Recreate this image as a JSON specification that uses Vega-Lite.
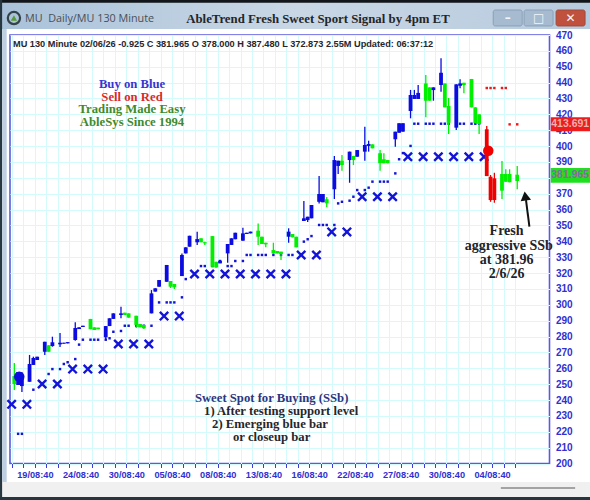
{"$schema":"https://vega.github.io/schema/vega-lite/v6.json","width":539.5,"height":428.5,"autosize":{"type":"none"},"padding":{"left":10,"top":35,"right":40.5,"bottom":36.5},"background":"#ffffff","resolve":{"axis":{"x":"independent","y":"independent"}},"config":{"view":{"stroke":"#5a5ae0","strokeWidth":1.6}},
"datasets":{
"candles":[
{"bar":0,"open":255.1,"close":250.1,"high":263.3,"low":246.3,"signal":"green"},{"bar":1,"open":249.5,"close":257.6,"high":257.6,"low":249.5,"signal":"blue"},{"bar":2,"open":248.8,"close":253.9,"high":257.6,"low":245,"signal":"blue"},
{"bar":4,"open":251.5,"close":262.7,"high":268.4,"low":251.5,"signal":"blue"},{"bar":5,"open":262.1,"close":266.5,"high":267.3,"low":262.1,"signal":"blue"},{"bar":6,"open":265.2,"close":267.3,"high":267.3,"low":265.2,"signal":"blue"},
{"bar":8,"open":270.4,"close":276.7,"high":276.7,"low":268.4,"signal":"blue"},{"bar":9,"open":274.5,"close":270.4,"high":274.5,"low":270.4,"signal":"green"},{"bar":10,"open":274,"close":276.4,"high":279.9,"low":273.6,"signal":"blue"},
{"bar":12,"open":275.1,"close":276.1,"high":282.2,"low":273.4,"signal":"blue"},{"bar":13,"open":275.5,"close":276.1,"high":276.1,"low":275.5,"signal":"blue"},{"bar":14,"open":275.7,"close":276.5,"high":276.5,"low":275.7,"signal":"blue"},
{"bar":16,"open":277.8,"close":285.4,"high":289,"low":277.4,"signal":"blue"},{"bar":17,"open":284.7,"close":285.8,"high":285.8,"low":284.7,"signal":"blue"},{"bar":18,"open":286,"close":286.8,"high":286.8,"low":286,"signal":"blue"},
{"bar":20,"open":291.1,"close":284.6,"high":291.1,"low":284.6,"signal":"green"},{"bar":21,"open":285.8,"close":284.1,"high":285.8,"low":284.1,"signal":"green"},{"bar":22,"open":285.6,"close":284.6,"high":285.6,"low":284.6,"signal":"green"},
{"bar":24,"open":279.5,"close":286.6,"high":286.6,"low":277.8,"signal":"blue"},{"bar":25,"open":286.6,"close":291.5,"high":291.5,"low":286.6,"signal":"blue"},{"bar":26,"open":291.1,"close":294.6,"high":294.6,"low":291.1,"signal":"blue"},
{"bar":28,"open":293.6,"close":294.6,"high":298.8,"low":291.5,"signal":"blue"},{"bar":29,"open":295,"close":293.6,"high":295,"low":293.6,"signal":"green"},{"bar":30,"open":294.6,"close":291.9,"high":294.6,"low":291.9,"signal":"green"},
{"bar":32,"open":293.1,"close":287.3,"high":293.1,"low":285.4,"signal":"green"},{"bar":33,"open":287.9,"close":285.8,"high":287.9,"low":285.8,"signal":"green"},{"bar":34,"open":287.3,"close":285.2,"high":287.3,"low":284.7,"signal":"green"},
{"bar":36,"open":294.6,"close":307.2,"high":309.3,"low":294.6,"signal":"blue"},{"bar":37,"open":308.3,"close":310.4,"high":310.4,"low":308.3,"signal":"blue"},{"bar":38,"open":311.4,"close":315.6,"high":315.6,"low":311.4,"signal":"blue"},
{"bar":40,"open":314.5,"close":325.1,"high":325.1,"low":314.5,"signal":"blue"},{"bar":41,"open":315,"close":311.4,"high":315,"low":310.6,"signal":"green"},{"bar":42,"open":313.1,"close":311,"high":313.1,"low":310,"signal":"green"},
{"bar":44,"open":318.1,"close":331.4,"high":332.4,"low":318.1,"signal":"blue"},{"bar":45,"open":332.4,"close":336.2,"high":336.2,"low":332.4,"signal":"blue"},{"bar":46,"open":336.6,"close":343.5,"high":343.5,"low":336.6,"signal":"blue"},
{"bar":48,"open":339.4,"close":341.4,"high":346.1,"low":337.7,"signal":"blue"},{"bar":49,"open":341.9,"close":339.4,"high":341.9,"low":339.4,"signal":"green"},{"bar":50,"open":339.4,"close":338.7,"high":339.8,"low":337.7,"signal":"green"},
{"bar":52,"open":343.3,"close":324,"high":343.3,"low":324,"signal":"green"},{"bar":53,"open":327.1,"close":323.6,"high":327.1,"low":323.6,"signal":"green"},{"bar":54,"open":326.1,"close":327.8,"high":327.8,"low":326.1,"signal":"blue"},
{"bar":56,"open":332.4,"close":338.3,"high":338.3,"low":326.5,"signal":"blue"},{"bar":57,"open":337.7,"close":341.9,"high":341.9,"low":337.7,"signal":"blue"},{"bar":58,"open":341.3,"close":345.4,"high":345.4,"low":341.3,"signal":"blue"},
{"bar":60,"open":340.4,"close":345,"high":348.6,"low":340.4,"signal":"blue"},{"bar":61,"open":344.6,"close":345.4,"high":345.4,"low":344.6,"signal":"blue"},{"bar":62,"open":345,"close":346.1,"high":346.1,"low":345,"signal":"blue"},
{"bar":64,"open":346.7,"close":342.9,"high":351.3,"low":337.7,"signal":"green"},{"bar":65,"open":342.9,"close":338.3,"high":342.9,"low":338.3,"signal":"green"},{"bar":66,"open":339.1,"close":338.1,"high":339.1,"low":336.2,"signal":"green"},
{"bar":68,"open":334.5,"close":332.4,"high":339.1,"low":332,"signal":"green"},{"bar":69,"open":333.9,"close":332.4,"high":333.9,"low":332.4,"signal":"green"},{"bar":70,"open":333.5,"close":332,"high":333.5,"low":328.2,"signal":"green"},
{"bar":72,"open":342.9,"close":346.1,"high":348.2,"low":339.1,"signal":"blue"},{"bar":73,"open":344.6,"close":342.5,"high":344.6,"low":342.5,"signal":"green"},{"bar":74,"open":342.9,"close":336.2,"high":342.9,"low":336.2,"signal":"green"},
{"bar":76,"open":352.8,"close":354.5,"high":365.4,"low":352.8,"signal":"blue"},{"bar":77,"open":353.4,"close":355.5,"high":355.5,"low":352.2,"signal":"blue"},{"bar":78,"open":354.5,"close":362.9,"high":362.9,"low":354.5,"signal":"blue"},
{"bar":80,"open":364.9,"close":369.8,"high":381.1,"low":363.9,"signal":"blue"},{"bar":81,"open":364.6,"close":369.8,"high":369.8,"low":364.6,"signal":"blue"},{"bar":82,"open":366.5,"close":363.9,"high":367.9,"low":361.4,"signal":"green"},
{"bar":84,"open":372.8,"close":391.2,"high":393.7,"low":366.6,"signal":"blue"},{"bar":85,"open":387.5,"close":390.8,"high":390.8,"low":382.4,"signal":"blue"},{"bar":86,"open":390.8,"close":388.1,"high":394.4,"low":384.5,"signal":"green"},
{"bar":88,"open":391.2,"close":396.5,"high":396.5,"low":376.9,"signal":"blue"},{"bar":89,"open":393.8,"close":391.2,"high":393.8,"low":388.1,"signal":"green"},{"bar":90,"open":393.3,"close":397.5,"high":397.5,"low":393.3,"signal":"blue"},
{"bar":92,"open":396.5,"close":400.7,"high":412.2,"low":390.8,"signal":"blue"},{"bar":93,"open":400.1,"close":401.3,"high":403.4,"low":396.5,"signal":"blue"},{"bar":94,"open":401.1,"close":398.6,"high":401.1,"low":398.6,"signal":"green"},
{"bar":96,"open":395.5,"close":389.2,"high":397.5,"low":384.5,"signal":"green"},{"bar":97,"open":391.7,"close":389.2,"high":395.5,"low":389.2,"signal":"green"},{"bar":98,"open":391.2,"close":389.2,"high":391.2,"low":389.2,"signal":"green"},
{"bar":100,"open":404.3,"close":409.1,"high":409.1,"low":399.6,"signal":"blue"},{"bar":101,"open":408.4,"close":414.4,"high":414.4,"low":408.4,"signal":"blue"},{"bar":102,"open":409.1,"close":414.4,"high":414.4,"low":409.1,"signal":"blue"},
{"bar":104,"open":422.1,"close":432.2,"high":435.4,"low":417.5,"signal":"blue"},{"bar":105,"open":429.7,"close":432.2,"high":435.4,"low":429.7,"signal":"blue"},{"bar":106,"open":429.7,"close":433.5,"high":438.5,"low":429.7,"signal":"blue"},
{"bar":108,"open":439.5,"close":428.6,"high":444.8,"low":418.1,"signal":"green"},{"bar":109,"open":437,"close":428.6,"high":437,"low":428.6,"signal":"green"},{"bar":110,"open":435.3,"close":437,"high":437,"low":428.6,"signal":"blue"},
{"bar":112,"open":438.5,"close":446.2,"high":455.3,"low":434.3,"signal":"blue"},{"bar":113,"open":439.5,"close":424.4,"high":439.5,"low":424.4,"signal":"green"},{"bar":114,"open":425.3,"close":414.7,"high":430.3,"low":407.6,"signal":"green"},
{"bar":116,"open":411.6,"close":438.9,"high":438.9,"low":410.1,"signal":"blue"},{"bar":117,"open":438,"close":439.5,"high":442.1,"low":436.4,"signal":"blue"},{"bar":118,"open":439.9,"close":438.5,"high":439.9,"low":433.3,"signal":"green"},
{"bar":120,"open":442.3,"close":424.4,"high":442.3,"low":424.4,"signal":"green"},{"bar":121,"open":424.4,"close":414.4,"high":424.4,"low":414.4,"signal":"green"},{"bar":122,"open":420,"close":413.9,"high":420,"low":407.6,"signal":"green"},
{"bar":124,"open":410.6,"close":381.1,"high":412.7,"low":381.1,"signal":"red"},{"bar":125,"open":380.7,"close":366,"high":381.8,"low":364.9,"signal":"red"},{"bar":126,"open":379.7,"close":366,"high":383.2,"low":364.3,"signal":"red"},
{"bar":128,"open":382.4,"close":371.9,"high":390.6,"low":366.6,"signal":"green"},{"bar":129,"open":382.4,"close":377.5,"high":385.4,"low":377.5,"signal":"green"},{"bar":130,"open":382.4,"close":377.2,"high":385.4,"low":377.2,"signal":"green"},
{"bar":132,"open":378,"close":381.965,"high":387.48,"low":372.873,"signal":"green"}],
"stops":[{"bar":1,"p":218.7},{"bar":2,"p":218.7},{"bar":5,"p":246.5},{"bar":9,"p":256.4},{"bar":10,"p":259.5},{"bar":12,"p":259.5},{"bar":13,"p":262.7},{"bar":14,"p":263.8},{"bar":16,"p":265.8},{"bar":17,"p":274.9},{"bar":18,"p":278},{"bar":20,"p":278},{"bar":21,"p":278},{"bar":22,"p":278},{"bar":24,"p":278},{"bar":25,"p":278.9},{"bar":26,"p":283},{"bar":28,"p":283.5},{"bar":29,"p":286.8},{"bar":30,"p":286.8},{"bar":32,"p":286.8},{"bar":33,"p":286.8},{"bar":34,"p":286.8},{"bar":36,"p":286.8},{"bar":38,"p":301.5},{"bar":40,"p":301.5},{"bar":41,"p":301.5},{"bar":42,"p":301.5},{"bar":44,"p":304.7},{"bar":45,"p":316.2},{"bar":49,"p":324.4},{"bar":50,"p":324.4},{"bar":52,"p":324.4},{"bar":53,"p":324.4},{"bar":54,"p":327.6},{"bar":56,"p":324.4},{"bar":57,"p":324.4},{"bar":58,"p":327.6},{"bar":60,"p":327.6},{"bar":61,"p":331.4},{"bar":62,"p":331.4},{"bar":64,"p":331.4},{"bar":65,"p":331.4},{"bar":66,"p":331.4},{"bar":68,"p":331.4},{"bar":70,"p":331.4},{"bar":72,"p":331.4},{"bar":73,"p":331.4},{"bar":76,"p":339.8},{"bar":77,"p":341.3},{"bar":78,"p":343.3},{"bar":80,"p":350.3},{"bar":81,"p":350.3},{"bar":82,"p":350.3},{"bar":84,"p":350.3},{"bar":85,"p":363.9},{"bar":86,"p":364.9},{"bar":88,"p":365.6},{"bar":89,"p":368.1},{"bar":90,"p":372.3},{"bar":92,"p":372.3},{"bar":93,"p":373.8},{"bar":94,"p":377.6},{"bar":96,"p":377.6},{"bar":97,"p":377.6},{"bar":98,"p":377.6},{"bar":100,"p":382.8},{"bar":101,"p":391.7},{"bar":102,"p":395.6},{"bar":104,"p":400.1},{"bar":105,"p":414.1},{"bar":106,"p":414.1},{"bar":108,"p":414.1},{"bar":109,"p":414.1},{"bar":110,"p":414.1},{"bar":112,"p":414.1},{"bar":113,"p":414.1},{"bar":114,"p":414.1},{"bar":116,"p":414.1},{"bar":117,"p":414.1},{"bar":118,"p":414.1},{"bar":120,"p":414.1},{"bar":121,"p":414.1},{"bar":122,"p":414.1}],
"redstops":[{"bar":124,"p":436.6},{"bar":125,"p":436.6},{"bar":126,"p":436.6},{"bar":128,"p":436.6},{"bar":129,"p":436.6},{"bar":130,"p":413.7},{"bar":132,"p":413.7}],
"crosses":[{"bar":-0.7,"p":237.3},{"bar":3.3,"p":237.3},{"bar":7.3,"p":250.1},{"bar":11.3,"p":250.1},{"bar":15.3,"p":259.5},{"bar":19.3,"p":259.5},{"bar":23.3,"p":259.5},{"bar":27.3,"p":275.3},{"bar":31.3,"p":275.3},{"bar":35.3,"p":275.3},{"bar":39.3,"p":292.9},{"bar":43.3,"p":292.9},{"bar":47.3,"p":319.4},{"bar":51.3,"p":319.4},{"bar":55.3,"p":319.4},{"bar":59.3,"p":319.4},{"bar":63.3,"p":319.4},{"bar":67.3,"p":319.4},{"bar":71.3,"p":319.4},{"bar":75.3,"p":331.4},{"bar":79.3,"p":331.4},{"bar":83.3,"p":345.9},{"bar":87.3,"p":345.9},{"bar":91.3,"p":368.1},{"bar":95.3,"p":368.1},{"bar":99.3,"p":368.1},{"bar":103.3,"p":393.3},{"bar":107.3,"p":393.3},{"bar":111.3,"p":393.3},{"bar":115.3,"p":393.3},{"bar":119.3,"p":393.3},{"bar":123.3,"p":393.3}]},
"layer":[
{"data":{"values":[{"a":-3.75,"b":151.1,"t":492.05,"u":473.8}]},"mark":{"type":"rect","fill":{"gradient":"linear","x1":0,"x2":1,"y1":0,"y2":0,"stops":[{"offset":0,"color":"#a9c2d9"},{"offset":0.5,"color":"#c9d7e5"},{"offset":1,"color":"#b7cbde"}]}},"encoding":{"x":{"field":"a","type":"quantitative","scale":{"domain":[-1.13,140.47],"nice":false,"zero":false,"padding":0},"axis":{"values":[-0.6,2.4,5.4,8.4,11.4,14.4,17.4,20.4,23.4,26.4,29.4,32.4,35.4,38.4,41.4,44.4,47.4,50.4,53.4,56.4,59.4,62.4,65.4,68.4,71.4,74.4,77.4,80.4,83.4,86.4,89.4,92.4,95.4,98.4,101.4,104.4,107.4,110.4,113.4,116.4,119.4,122.4,125.4,128.4,131.4],"labelExpr":"{'5.4':'19/08:40','17.4':'24/08:40','29.4':'30/08:40','41.4':'05/08:40','53.4':'08/08:40','65.4':'13/08:40','77.4':'16/08:40','89.4':'22/08:40','101.4':'27/08:40','113.4':'30/08:40','125.4':'04/08:40'}[''+datum.value]||''","labelOverlap":false,"labelBound":false,"labelFlush":false,"title":null,"grid":true,"gridColor":"#d4fbfb","gridWidth":1,"domain":false,"ticks":true,"tickColor":"#3a3ad8","tickSize":4,"labelColor":"#3030d0","labelFont":"Liberation Sans","labelFontSize":9.2,"labelFontWeight":"bold","labelPadding":3}},"x2":{"field":"b"},"y":{"field":"t","type":"quantitative","scale":{"domain":[200,470],"nice":false,"zero":false,"padding":0},"axis":{"orient":"right","values":[200,210,220,230,240,250,260,270,280,290,300,310,320,330,340,350,360,370,380,390,400,410,420,430,440,450,460,470],"labelOverlap":false,"labelBound":false,"title":null,"grid":true,"gridColor":"#d4fbfb","gridWidth":1,"domain":false,"ticks":false,"labelColor":"#3030d0","labelFont":"Liberation Sans","labelFontSize":10,"labelFontWeight":"bold","labelPadding":6}},"y2":{"field":"u"}}},
{"data":{"values":[{"a":-3.75,"b":151.1,"t":492.05,"u":490.3}]},"mark":{"type":"rect","fill":"#12161a"},"encoding":{"x":{"field":"a","type":"quantitative","axis":null},"x2":{"field":"b"},"y":{"field":"t","type":"quantitative","axis":null},"y2":{"field":"u"}}},
{"data":{"values":[{"a":-3.75,"b":151.1,"t":188.3,"u":178.9}]},"mark":{"type":"rect","fill":"#f0f0f0"},"encoding":{"x":{"field":"a","type":"quantitative","axis":null},"x2":{"field":"b"},"y":{"field":"t","type":"quantitative","axis":null},"y2":{"field":"u"}}},
{"data":{"values":[{"a":-3.75,"b":151.1,"t":178.9,"u":177}]},"mark":{"type":"rect","fill":"#26363e"},"encoding":{"x":{"field":"a","type":"quantitative","axis":null},"x2":{"field":"b"},"y":{"field":"t","type":"quantitative","axis":null},"y2":{"field":"u"}}},
{"data":{"values":[{"a":-3.75,"b":-3.2,"t":492.05,"u":177}]},"mark":{"type":"rect","fill":"#26363e"},"encoding":{"x":{"field":"a","type":"quantitative","axis":null},"x2":{"field":"b"},"y":{"field":"t","type":"quantitative","axis":null},"y2":{"field":"u"}}},
{"data":{"values":[{"a":-3.2,"b":-2,"t":473.8,"u":188.3}]},"mark":{"type":"rect","fill":"#bdcfe0"},"encoding":{"x":{"field":"a","type":"quantitative","axis":null},"x2":{"field":"b"},"y":{"field":"t","type":"quantitative","axis":null},"y2":{"field":"u"}}},
{"data":{"values":[{"a":127.7,"b":147.2,"t":184.6}]},"mark":{"type":"rule","color":"#8a8a8a","strokeWidth":1.6},"encoding":{"x":{"field":"a","type":"quantitative","axis":null},"x2":{"field":"b"},"y":{"field":"t","type":"quantitative","axis":null}}},
{"data":{"values":[{"a":125.7,"b":133.3,"t":485.75,"u":475.7},{"a":133.8,"b":141.4,"t":485.75,"u":475.7}]},"mark":{"type":"rect","fill":"#a6bbd0","stroke":"#8aa0b6","cornerRadius":2},"encoding":{"x":{"field":"a","type":"quantitative","axis":null},"x2":{"field":"b"},"y":{"field":"t","type":"quantitative","axis":null},"y2":{"field":"u"}}},
{"data":{"values":[{"a":142.2,"b":149.8,"t":485.75,"u":475.7}]},"mark":{"type":"rect","fill":"#c0513c","stroke":"#a24a3a","cornerRadius":2},"encoding":{"x":{"field":"a","type":"quantitative","axis":null},"x2":{"field":"b"},"y":{"field":"t","type":"quantitative","axis":null},"y2":{"field":"u"}}},
{"data":{"values":[{"x":129.5,"p":480.7,"g":"–"},{"x":137.6,"p":480.7,"g":"□"},{"x":146,"p":480.7,"g":"✕"}]},"mark":{"type":"text","font":"DejaVu Sans","fontSize":12,"fontWeight":"bold","color":"#f2f6fa","baseline":"middle"},"encoding":{"x":{"field":"x","type":"quantitative","axis":null},"y":{"field":"p","type":"quantitative","axis":null},"text":{"field":"g"}}},
{"data":{"values":[{"x":-0.1,"p":480.7}]},"mark":{"type":"point","filled":false,"color":"#34424a","strokeWidth":2.2,"size":150,"opacity":1},"encoding":{"x":{"field":"x","type":"quantitative","axis":null},"y":{"field":"p","type":"quantitative","axis":null}}},
{"data":{"values":[{"x":-0.1,"p":480.7}]},"mark":{"type":"point","shape":"triangle-up","filled":true,"color":"#5a9a3a","size":40,"opacity":1},"encoding":{"x":{"field":"x","type":"quantitative","axis":null},"y":{"field":"p","type":"quantitative","axis":null}}},
{"data":{"values":[{"x":2.8,"p":480,"t":"MU\u00a0\u00a0Daily/MU 130 Minute"}]},"mark":{"type":"text","font":"Open Sans","fontSize":10.8,"color":"#4a4f55","align":"left","baseline":"middle"},"encoding":{"x":{"field":"x","type":"quantitative","axis":null},"y":{"field":"p","type":"quantitative","axis":null},"text":{"field":"t"}}},
{"data":{"values":[{"x":79.7,"p":480,"t":"AbleTrend Fresh Sweet Sport Signal by 4pm ET"}]},"mark":{"type":"text","font":"Liberation Serif","fontSize":12.8,"fontWeight":"bold","color":"#22262a","baseline":"middle"},"encoding":{"x":{"field":"x","type":"quantitative","axis":null},"y":{"field":"p","type":"quantitative","axis":null},"text":{"field":"t"}}},
{"data":{"values":[{"x":-0.34,"p":464.3,"t":"MU 130 Minute 02/06/26 -0.925 C 381.965 O 378.000 H 387.480 L 372.873 2.55M Updated: 06:37:12"}]},"mark":{"type":"text","font":"Liberation Sans","fontSize":9.2,"fontWeight":"bold","color":"#26262e","align":"left","baseline":"middle"},"encoding":{"x":{"field":"x","type":"quantitative","axis":null},"y":{"field":"p","type":"quantitative","axis":null},"text":{"field":"t"}}},
{"data":{"name":"stops"},"mark":{"type":"point","shape":"square","filled":true,"color":"#1414d8","size":6,"opacity":1},"encoding":{"x":{"field":"bar","type":"quantitative","axis":null},"y":{"field":"p","type":"quantitative","axis":null}}},
{"data":{"name":"redstops"},"mark":{"type":"point","shape":"square","filled":true,"color":"#f01818","size":6,"opacity":1},"encoding":{"x":{"field":"bar","type":"quantitative","axis":null},"y":{"field":"p","type":"quantitative","axis":null}}},
{"data":{"name":"crosses"},"mark":{"type":"point","shape":"M-1,-1L1,1M-1,1L1,-1","filled":false,"color":"#1414d8","strokeWidth":2.4,"size":70,"opacity":1},"encoding":{"x":{"field":"bar","type":"quantitative","axis":null},"y":{"field":"p","type":"quantitative","axis":null}}},
{"data":{"name":"candles"},"mark":{"type":"rule","strokeWidth":1.3},"encoding":{"x":{"field":"bar","type":"quantitative","axis":null},"y":{"field":"low","type":"quantitative","axis":null},"y2":{"field":"high"},"color":{"field":"signal","type":"nominal","legend":null,"scale":{"domain":["blue","green","red"],"range":["#0c0ce0","#00f000","#f00000"]}}}},
{"data":{"name":"candles"},"mark":{"type":"bar","width":3.8},"encoding":{"x":{"field":"bar","type":"quantitative","axis":null},"y":{"field":"open","type":"quantitative","axis":null},"y2":{"field":"close"},"color":{"field":"signal","type":"nominal","legend":null,"scale":{"domain":["blue","green","red"],"range":["#0c0ce0","#00f000","#f00000"]}}}},
{"data":{"values":[{"bar":1.3,"p":254.7,"signal":"blue"},{"bar":124.4,"p":397.1,"signal":"red"}]},"mark":{"type":"point","shape":"circle","filled":true,"size":110,"opacity":1},"encoding":{"x":{"field":"bar","type":"quantitative","axis":null},"y":{"field":"p","type":"quantitative","axis":null},"color":{"field":"signal","type":"nominal","legend":null,"scale":{"domain":["blue","green","red"],"range":["#0c0ce0","#00f000","#f00000"]}}}},
{"data":{"values":[{"x":140.8,"e":151.1,"t":418.1,"u":409.3}]},"mark":{"type":"rect","fill":"#ee1c1c"},"encoding":{"x":{"field":"x","type":"quantitative","axis":null},"x2":{"field":"e"},"y":{"field":"t","type":"quantitative","axis":null},"y2":{"field":"u"}}},
{"data":{"values":[{"x":140.8,"e":151.1,"t":386.2,"u":376.9}]},"mark":{"type":"rect","fill":"#1fe01f"},"encoding":{"x":{"field":"x","type":"quantitative","axis":null},"x2":{"field":"e"},"y":{"field":"t","type":"quantitative","axis":null},"y2":{"field":"u"}}},
{"data":{"values":[{"x":145.9,"p":413.691,"t":"413.691"}]},"mark":{"type":"text","font":"Liberation Sans","fontSize":10.5,"fontWeight":"bold","color":"#f0b0b0","baseline":"middle"},"encoding":{"x":{"field":"x","type":"quantitative","axis":null},"y":{"field":"p","type":"quantitative","axis":null},"text":{"field":"t"}}},
{"data":{"values":[{"x":145.9,"p":381.965,"t":"381.965"}]},"mark":{"type":"text","font":"Liberation Sans","fontSize":10.5,"fontWeight":"bold","color":"#8a6aa0","baseline":"middle"},"encoding":{"x":{"field":"x","type":"quantitative","axis":null},"y":{"field":"p","type":"quantitative","axis":null},"text":{"field":"t"}}},
{"data":{"values":[{"x":135.2,"p":349.2},{"x":134.3,"p":366}]},"mark":{"type":"line","color":"#111111","strokeWidth":2},"encoding":{"x":{"field":"x","type":"quantitative","axis":null},"y":{"field":"p","type":"quantitative","axis":null}}},
{"data":{"values":[{"x":134.1,"p":368.5}]},"mark":{"type":"point","shape":"triangle-up","filled":true,"color":"#111111","size":110,"angle":-8,"opacity":1},"encoding":{"x":{"field":"x","type":"quantitative","axis":null},"y":{"field":"p","type":"quantitative","axis":null}}},
{"data":{"values":[{"x":30.9,"p":439.1,"t":"Buy on Blue"}]},"mark":{"type":"text","font":"Liberation Serif","fontSize":12.7,"fontWeight":"bold","color":"#3636d0","baseline":"middle"},"encoding":{"x":{"field":"x","type":"quantitative","axis":null},"y":{"field":"p","type":"quantitative","axis":null},"text":{"field":"t"}}},
{"data":{"values":[{"x":30.9,"p":431.2,"t":"Sell on Red"}]},"mark":{"type":"text","font":"Liberation Serif","fontSize":12.7,"fontWeight":"bold","color":"#e02828","baseline":"middle"},"encoding":{"x":{"field":"x","type":"quantitative","axis":null},"y":{"field":"p","type":"quantitative","axis":null},"text":{"field":"t"}}},
{"data":{"values":[{"x":30.9,"p":423.4,"t":"Trading Made Easy"},{"x":30.9,"p":415.2,"t":"AbleSys Since 1994"}]},"mark":{"type":"text","font":"Liberation Serif","fontSize":12.7,"fontWeight":"bold","color":"#3f8a2c","baseline":"middle"},"encoding":{"x":{"field":"x","type":"quantitative","axis":null},"y":{"field":"p","type":"quantitative","axis":null},"text":{"field":"t"}}},
{"data":{"values":[{"x":47.4,"p":241.3,"t":"Sweet Spot for Buying (SSb)"}]},"mark":{"type":"text","font":"Liberation Serif","fontSize":12.7,"fontWeight":"bold","color":"#2f3580","align":"left","baseline":"middle"},"encoding":{"x":{"field":"x","type":"quantitative","axis":null},"y":{"field":"p","type":"quantitative","axis":null},"text":{"field":"t"}}},
{"data":{"values":[{"x":49.8,"p":233,"t":"1) After testing support level"},{"x":51.9,"p":224.9,"t":"2) Emerging blue bar"},{"x":57.4,"p":216.7,"t":"or closeup bar"}]},"mark":{"type":"text","font":"Liberation Serif","fontSize":12.7,"fontWeight":"bold","color":"#26262c","align":"left","baseline":"middle"},"encoding":{"x":{"field":"x","type":"quantitative","axis":null},"y":{"field":"p","type":"quantitative","axis":null},"text":{"field":"t"}}},
{"data":{"values":[{"x":129.2,"p":346.5,"t":"Fresh"},{"x":129.8,"p":337,"t":"aggressive SSb"},{"x":129.2,"p":328.2,"t":"at 381.96"},{"x":129.2,"p":319.4,"t":"2/6/26"}]},"mark":{"type":"text","font":"Liberation Serif","fontSize":14,"fontWeight":"bold","color":"#22222a","baseline":"middle"},"encoding":{"x":{"field":"x","type":"quantitative","axis":null},"y":{"field":"p","type":"quantitative","axis":null},"text":{"field":"t"}}}
]}
